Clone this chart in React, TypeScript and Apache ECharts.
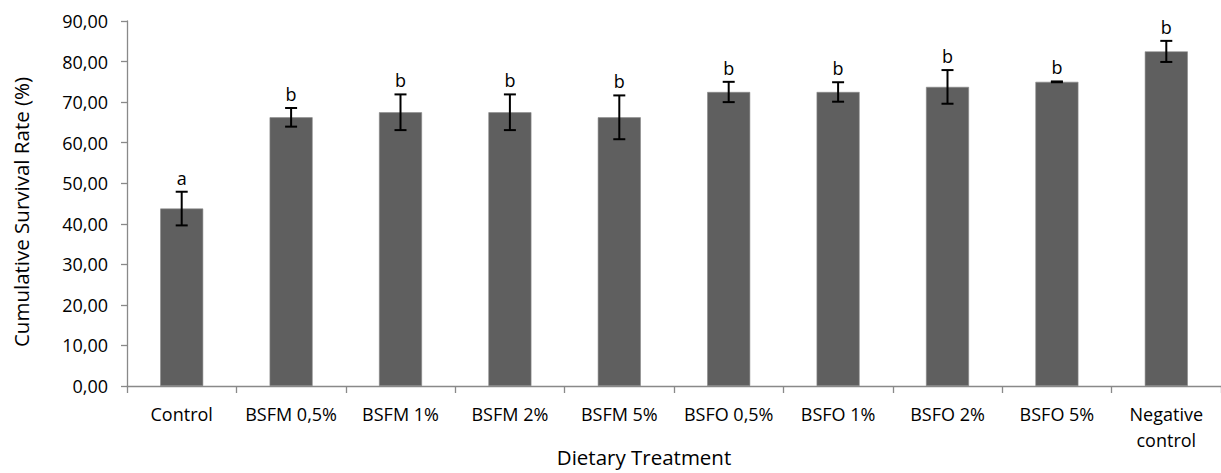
import React, { useEffect, useRef } from 'react';
import * as echarts from 'echarts';

const categories = ['Control', 'BSFM 0,5%', 'BSFM 1%', 'BSFM 2%', 'BSFM 5%', 'BSFO 0,5%', 'BSFO 1%', 'BSFO 2%', 'BSFO 5%', 'Negative\ncontrol'];
const survival = [43.75, 66.25, 67.5, 67.5, 66.25, 72.5, 72.5, 73.75, 75.0, 82.5];
const errorSD = [4.15, 2.3, 4.4, 4.4, 5.4, 2.5, 2.4, 4.15, 0.1, 2.6];
const letters = ['a', 'b', 'b', 'b', 'b', 'b', 'b', 'b', 'b', 'b'];
const yMin = 0;
const yMax = 90;
const yInterval = 10;

const FONT = 'Open Sans';

export default function App() {
  const ref = useRef<HTMLDivElement>(null);
  useEffect(() => {
    if (!ref.current) return;
    const chart = echarts.init(ref.current, undefined, { renderer: 'svg' });
    const errData = survival.map((v, i) => [i, v + errorSD[i], v - errorSD[i]]);
    chart.setOption({
      animation: false,
      grid: { left: 127, top: 21, width: 1096, height: 365, containLabel: false },
      xAxis: {
        type: 'category',
        data: categories,
        axisLine: { lineStyle: { color: '#898989', width: 1.3 } },
        axisTick: { show: true, length: 7, lineStyle: { color: '#898989', width: 1.3 } },
        axisLabel: { color: '#000', fontFamily: FONT, fontSize: 18, lineHeight: 26, margin: 15, interval: 0 },
      },
      yAxis: {
        type: 'value',
        min: yMin,
        max: yMax,
        interval: yInterval,
        splitLine: { show: false },
        axisLine: { show: true, lineStyle: { color: '#898989', width: 1.3 } },
        axisTick: { show: true, length: 6, lineStyle: { color: '#898989', width: 1.3 } },
        axisLabel: {
          color: '#000',
          fontFamily: FONT,
          fontSize: 18,
          margin: 19,
          formatter: (v: number) => v.toFixed(2).replace('.', ','),
        },
      },
      graphic: [
        {
          type: 'text',
          x: 21,
          y: 212,
          rotation: Math.PI / 2,
          style: {
            text: 'Cumulative Survival Rate (%)',
            fontFamily: FONT,
            fontSize: 20.5,
            fill: '#000',
            align: 'center',
            verticalAlign: 'middle',
          },
        },
        {
          type: 'text',
          x: 644,
          y: 457,
          style: {
            text: 'Dietary Treatment',
            fontFamily: FONT,
            fontSize: 20.5,
            fill: '#000',
            align: 'center',
            verticalAlign: 'middle',
          },
        },
      ],
      series: [
        {
          type: 'bar',
          data: survival,
          barWidth: 43,
          itemStyle: { color: '#5f5f5f', borderColor: '#8a8a8a', borderWidth: 0.6 },
        },
        {
          type: 'custom',
          data: errData,
          encode: { x: 0, y: [1, 2] },
          z: 10,
          renderItem: (params: any, api: any) => {
            const i = api.value(0);
            const hi = api.coord([i, api.value(1)]);
            const lo = api.coord([i, api.value(2)]);
            const half = 6;
            const st = { stroke: '#000', lineWidth: 2 };
            return {
              type: 'group',
              children: [
                { type: 'line', shape: { x1: hi[0], y1: hi[1], x2: lo[0], y2: lo[1] }, style: st },
                { type: 'line', shape: { x1: hi[0] - half, y1: hi[1], x2: hi[0] + half, y2: hi[1] }, style: st },
                { type: 'line', shape: { x1: lo[0] - half, y1: lo[1], x2: lo[0] + half, y2: lo[1] }, style: st },
                {
                  type: 'text',
                  x: hi[0],
                  y: hi[1] - 5,
                  style: {
                    text: letters[params.dataIndex],
                    fontFamily: FONT,
                    fontSize: 18,
                    fill: '#000',
                    align: 'center',
                    verticalAlign: 'bottom',
                  },
                },
              ],
            };
          },
        },
      ],
    });
    return () => chart.dispose();
  }, []);
  return <div ref={ref} style={{ position: 'absolute', left: 0, top: 0, width: 1221, height: 473 }} />;
}
